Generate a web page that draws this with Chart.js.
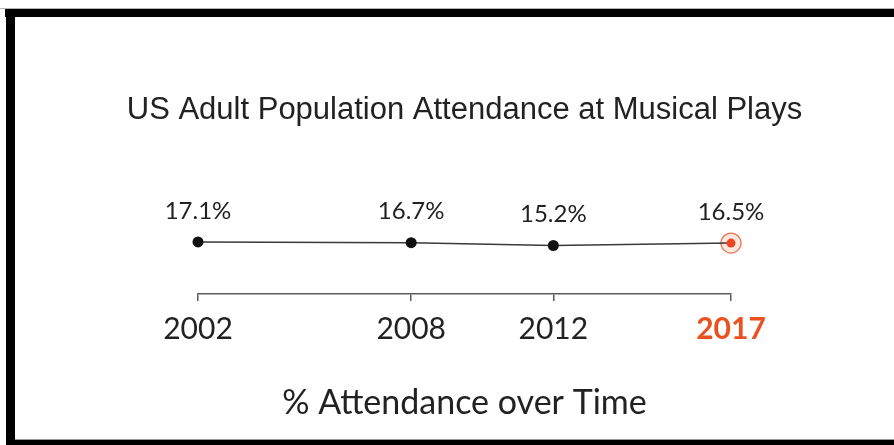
<!DOCTYPE html>
<html>
<head>
  <title>Musical Plays Attendance</title>
  <script src="https://cdn.jsdelivr.net/npm/chart.js"></script>
  <style>
    body {
      margin: 0;
      background: #fff;
      font-family: Lato, Arial, sans-serif;
    }
    #wrap {
      position: relative;
      width: 894px;
      height: 445px;
      overflow: hidden;
    }
    #myChart {
      position: absolute;
      left: 0;
      top: 0;
    }
    .edge {
      position: absolute;
      background: #000;
    }
  </style>
</head>
<body>
  <div id="wrap">
    <canvas id="myChart" width="894" height="445"></canvas>
    <div class="edge" style="top:8px;left:0;right:0;height:1px;background:#b4b4b4"></div>
    <div class="edge" style="top:9px;left:5px;right:0;height:8px"></div>
    <div class="edge" style="top:9px;left:6px;width:9px;bottom:0"></div>
    <div class="edge" style="top:439px;left:15px;right:0;height:1px;background:#9a9a9a"></div>
    <div class="edge" style="top:440px;left:6px;right:0;bottom:0"></div>
  </div>
  <script>
    const years = [2002, 2008, 2012, 2017];
    const attendance = [17.1, 16.7, 15.2, 16.5];
    const tickYears = [2002, 2008, 2012, 2017];
    const latestYear = 2017;
    const chartTitle = 'US Adult Population Attendance at Musical Plays';

    const dark = '#222222';
    const accent = '#ea5121';

    // heading drawn by hand so it can run wider than the plot area
    const heading = {
      id: 'heading',
      afterDraw(chart) {
        const ctx = chart.ctx;
        const a = chart.chartArea;
        ctx.save();
        ctx.font = "31px 'Liberation Sans', Arial, sans-serif";
        ctx.fillStyle = dark;
        ctx.textAlign = 'center';
        ctx.textBaseline = 'middle';
        ctx.fillText(chartTitle, (a.left + a.right) / 2, a.top - 47);
        ctx.restore();
      }
    };

    // % labels above every point
    const valueLabels = {
      id: 'valueLabels',
      afterDatasetsDraw(chart) {
        const ctx = chart.ctx;
        const meta = chart.getDatasetMeta(0);
        ctx.save();
        ctx.font = '24px Lato';
        ctx.fillStyle = dark;
        ctx.textAlign = 'center';
        ctx.textBaseline = 'middle';
        meta.data.forEach((pt, i) => {
          ctx.fillText(attendance[i].toFixed(1) + '%', pt.x, pt.y - 31);
        });
        ctx.restore();
      }
    };

    // soft ring around the latest point
    const latestRing = {
      id: 'latestRing',
      beforeDatasetsDraw(chart) {
        const ctx = chart.ctx;
        const idx = years.indexOf(latestYear);
        const pt = chart.getDatasetMeta(0).data[idx];
        ctx.save();
        ctx.beginPath();
        ctx.arc(pt.x, pt.y, 10, 0, Math.PI * 2);
        ctx.fillStyle = '#fde8e0';
        ctx.fill();
        ctx.lineWidth = 1.3;
        ctx.strokeStyle = '#e9765a';
        ctx.stroke();
        ctx.restore();
      }
    };

    const ctx = document.getElementById('myChart').getContext('2d');
    const chart = new Chart(ctx, {
      type: 'line',
      data: {
        datasets: [{
          data: years.map((y, i) => ({ x: y, y: attendance[i] })),
          borderColor: '#3a3a3a',
          borderWidth: 1.5,
          tension: 0,
          clip: false,
          pointRadius: years.map(y => y === latestYear ? 4.5 : 5.5),
          pointBackgroundColor: years.map(y => y === latestYear ? '#ef4522' : '#111'),
          pointBorderWidth: 0
        }]
      },
      options: {
        responsive: false,
        animation: false,
        events: [],
        layout: {
          padding: { top: 157, left: 198, right: 163, bottom: 21.6 }
        },
        plugins: {
          legend: { display: false },
          tooltip: { enabled: false },
          title: { display: false }
        },
        scales: {
          x: {
            type: 'linear',
            min: years[0],
            max: years[years.length - 1],
            afterBuildTicks: scale => {
              scale.ticks = tickYears.map(v => ({ value: v }));
            },
            afterFit: scale => {
              scale.height = 129.4;
            },
            border: { display: true, color: '#5a5a5a', width: 1.5 },
            grid: { drawOnChartArea: false, tickLength: 7, color: '#5a5a5a', lineWidth: 1.5 },
            ticks: {
              padding: 10,
              autoSkip: false,
              maxRotation: 0,
              callback: v => String(v),
              color: c => c.tick && c.tick.value === latestYear ? accent : dark,
              font: c => ({
                family: 'Lato',
                size: 30,
                weight: c.tick && c.tick.value === latestYear ? 'bold' : 'normal'
              })
            },
            title: {
              display: true,
              text: '% Attendance over Time',
              color: dark,
              font: { family: 'Lato', size: 34 },
              padding: { top: 27, bottom: 0 }
            }
          },
          y: {
            display: false,
            min: -11,
            max: 63
          }
        }
      },
      plugins: [latestRing, valueLabels, heading]
    });
  </script>
</body>
</html>
